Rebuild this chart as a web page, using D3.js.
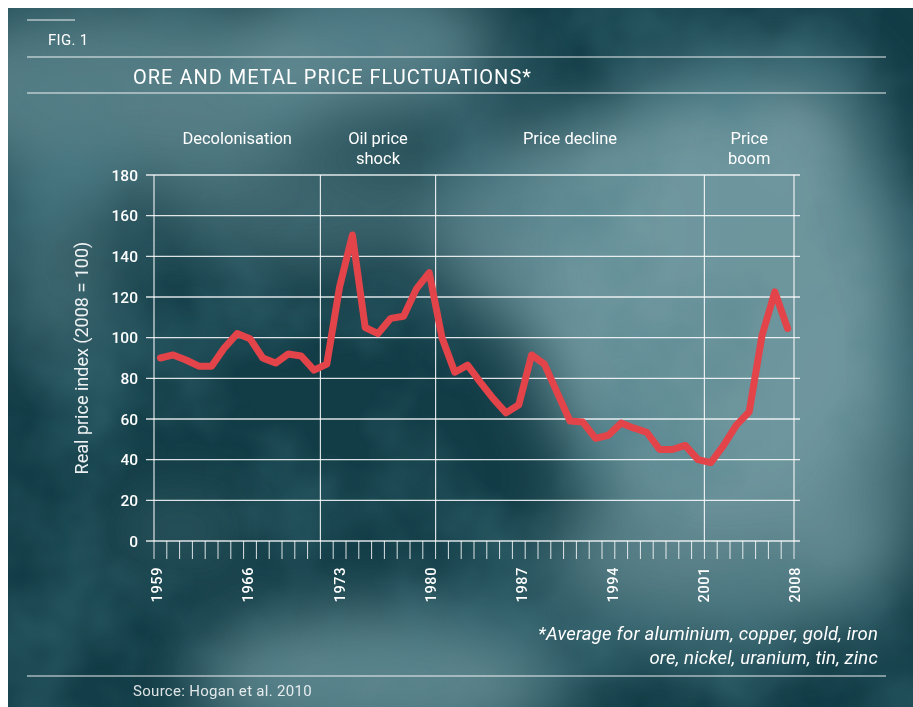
<!DOCTYPE html>
<html>
<head>
<meta charset="utf-8">
<title>Ore and metal price fluctuations</title>
<script src="https://cdn.jsdelivr.net/npm/d3@7/dist/d3.min.js"></script>
<style>
  body { margin: 0; background: #fff; }
  text { font-family: Roboto, "Liberation Sans", sans-serif; fill: #fff; }
</style>
</head>
<body>
<svg width="913" height="707"></svg>
<script>
// data
var years = d3.range(1959, 2009);
var priceIndex = [90, 91.5, 89, 86, 86, 95, 102, 99.5, 90, 87.5,
                  92, 91, 84, 87, 125, 150.5, 105, 102, 109.5, 110.5,
                  124, 132, 100, 83, 86.5, 78, 70, 63, 67, 91.5,
                  87, 73, 59, 58.5, 50.5, 52, 58, 55.5, 53.5, 45,
                  45, 47, 40, 38.5, 47, 57, 63.5, 101, 122.5, 104.5];
var yTicks = [0, 20, 40, 60, 80, 100, 120, 140, 160, 180];
var xLabels = [1959, 1966, 1973, 1980, 1987, 1994, 2001, 2008];
var periodNames = [["Decolonisation"], ["Oil price", "shock"], ["Price decline"], ["Price", "boom"]];
var periodBreaks = [1959, 1972, 1981, 2002, 2009];

var svg = d3.select("svg");

// background clouds
var defs = svg.append("defs");
defs.append("clipPath").attr("id", "bgclip")
  .append("rect").attr("x", 8).attr("y", 8).attr("width", 905).attr("height", 699);
defs.append("filter").attr("id", "blur").attr("x", "-50%").attr("y", "-50%").attr("width", "200%").attr("height", "200%")
  .append("feGaussianBlur").attr("stdDeviation", 34);
var noise = defs.append("filter").attr("id", "noise").attr("x", 0).attr("y", 0).attr("width", "100%").attr("height", "100%");
noise.append("feTurbulence").attr("type", "fractalNoise").attr("baseFrequency", 0.007).attr("numOctaves", 4).attr("seed", 3);
noise.append("feColorMatrix").attr("type", "matrix")
  .attr("values", "0 0 0 0 0.06  0 0 0 0 0.2  0 0 0 0 0.24  0 0 0 2.2 -0.95");

var bg = svg.append("g").attr("clip-path", "url(#bgclip)");
bg.append("rect").attr("x", 8).attr("y", 8).attr("width", 905).attr("height", 699).attr("fill", "#123c46");
var clouds = [
  // cx, cy, rx, ry, opacity
  [120, 90, 210, 90, 0.7], [370, 50, 130, 70, 0.75], [300, 210, 150, 60, 0.45],
  [720, 300, 190, 230, 0.95], [560, 230, 130, 110, 0.75], [800, 120, 70, 60, 0.7],
  [380, 680, 190, 70, 0.8], [720, 560, 180, 80, 0.7], [60, 260, 60, 110, 0.45],
  [860, 450, 70, 140, 0.6], [180, 530, 70, 30, 0.35]
];
bg.append("g").attr("filter", "url(#blur)")
  .selectAll("ellipse").data(clouds).enter().append("ellipse")
  .attr("cx", function(d){ return d[0]; }).attr("cy", function(d){ return d[1]; })
  .attr("rx", function(d){ return d[2]; }).attr("ry", function(d){ return d[3]; })
  .attr("fill", "#739aa1").attr("opacity", function(d){ return d[4]; });
bg.append("rect").attr("x", 8).attr("y", 8).attr("width", 905).attr("height", 699)
  .attr("filter", "url(#noise)").attr("opacity", 0.5);

// header / footer rules
var rules = [[27, 75, 20], [27, 886, 57], [27, 886, 93], [27, 886, 676]];
svg.append("g").selectAll("line").data(rules).enter().append("line")
  .attr("x1", function(d){ return d[0]; }).attr("x2", function(d){ return d[1]; })
  .attr("y1", function(d){ return d[2]; }).attr("y2", function(d){ return d[2]; })
  .attr("stroke", "#fff").attr("stroke-width", 1.2).attr("opacity", 0.9);

svg.append("text").attr("x", 48).attr("y", 45).attr("font-size", 15).attr("letter-spacing", 0.3).text("FIG. 1");
svg.append("text").attr("x", 133).attr("y", 84).attr("font-size", 20).attr("letter-spacing", 1)
  .text("ORE AND METAL PRICE FLUCTUATIONS*");

// scales
var x = d3.scaleLinear().domain([1959, 2009]).range([154, 794]);
var y = d3.scaleLinear().domain([0, 180]).range([541, 175]);
var xLab = d3.scaleLinear().domain([1959, 2008]).range([x(1959) + 3, x(2009) + 1]);

var g = svg.append("g");

// horizontal grid
g.append("g").selectAll("line").data(yTicks).enter().append("line")
  .attr("x1", x(1959) - 8).attr("x2", x(2009) + 6)
  .attr("y1", function(d){ return y(d); }).attr("y2", function(d){ return y(d); })
  .attr("stroke", "#fff").attr("stroke-width", 1.4).attr("opacity", 0.85);

// period boundaries
g.append("g").selectAll("line").data(periodBreaks).enter().append("line")
  .attr("x1", function(d){ return x(d); }).attr("x2", function(d){ return x(d); })
  .attr("y1", y(180)).attr("y2", y(0))
  .attr("stroke", "#fff").attr("stroke-width", 1.2).attr("opacity", 0.85);

// year ticks
g.append("g").selectAll("line").data(d3.range(1959, 2010)).enter().append("line")
  .attr("x1", function(d){ return x(d); }).attr("x2", function(d){ return x(d); })
  .attr("y1", y(0)).attr("y2", y(0) + 18)
  .attr("stroke", "#fff").attr("stroke-width", 1).attr("opacity", 0.85);

// y tick labels
g.append("g").selectAll("text").data(yTicks).enter().append("text")
  .attr("x", 138).attr("y", function(d){ return y(d); })
  .attr("dy", "0.36em").attr("text-anchor", "end")
  .attr("font-size", 15.5).attr("font-weight", 500)
  .text(function(d){ return d; });

// x labels
g.append("g").selectAll("text").data(xLabels).enter().append("text")
  .attr("transform", function(d){ return "translate(" + xLab(d) + ",567) rotate(-90)"; })
  .attr("dy", "0.36em").attr("text-anchor", "end")
  .attr("font-size", 14.5).attr("font-weight", 500).attr("letter-spacing", 0.6)
  .text(function(d){ return d; });

// y axis title
svg.append("text")
  .attr("transform", "translate(88," + y(90) + ") rotate(-90)")
  .attr("text-anchor", "middle").attr("font-size", 18).attr("opacity", 0.92)
  .text("Real price index (2008 = 100)");

// period labels, one text per line
periodNames.forEach(function(lines, i) {
  var cx = (x(periodBreaks[i]) + x(periodBreaks[i + 1])) / 2;
  g.append("g").selectAll("text").data(lines).enter().append("text")
    .attr("text-anchor", "middle").attr("font-size", 16.5)
    .attr("x", cx)
    .attr("y", function(d, j){ return 144 + j * 19.5; })
    .text(function(d){ return d; });
});

// price line
var line = d3.line()
  .x(function(d, i){ return x(years[i] + 0.5); })
  .y(function(d){ return y(d); });
g.append("path").datum(priceIndex)
  .attr("d", line)
  .attr("fill", "none").attr("stroke", "#e2444a").attr("stroke-width", 7)
  .attr("stroke-linejoin", "round").attr("stroke-linecap", "round");

// footnote + source
svg.append("text").attr("x", 878).attr("y", 640).attr("text-anchor", "end")
  .attr("font-size", 18.5).attr("font-style", "italic").attr("letter-spacing", 0.2)
  .text("*Average for aluminium, copper, gold, iron");
svg.append("text").attr("x", 878).attr("y", 664).attr("text-anchor", "end")
  .attr("font-size", 18.5).attr("font-style", "italic").attr("letter-spacing", 0.2)
  .text("ore, nickel, uranium, tin, zinc");
svg.append("text").attr("x", 133).attr("y", 696).attr("font-size", 15).attr("letter-spacing", 0.3).attr("opacity", 0.85)
  .text("Source: Hogan et al. 2010");
</script>
</body>
</html>
